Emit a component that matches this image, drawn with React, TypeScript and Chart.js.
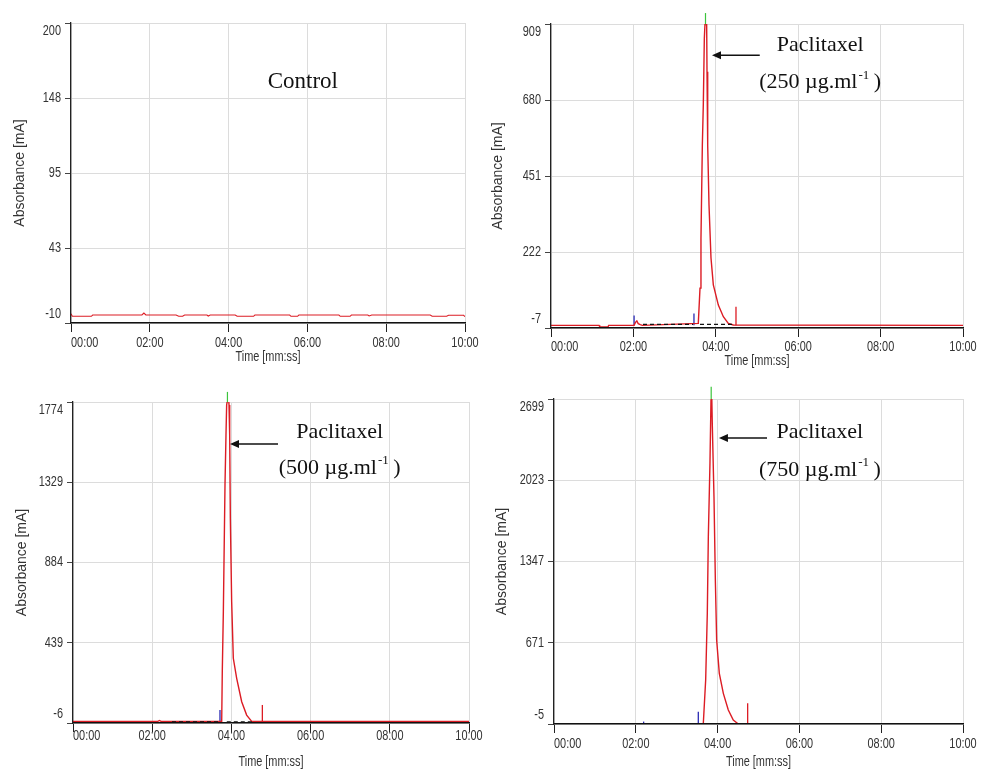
import React, { useEffect, useRef } from "react";
import { Chart, registerables } from "chart.js";

Chart.register(...registerables);

// ---------- shared axis data ----------
const X_TICKS = [0, 120, 240, 360, 480, 600]; // seconds
const X_TICK_LABELS = ["00:00", "02:00", "04:00", "06:00", "08:00", "10:00"];
const X_TITLE = "Time [mm:ss]";
const Y_TITLE = "Absorbance [mA]";

// ---------- Control ----------
const CONTROL_Y_TICKS = [-10, 42.5, 95, 147.5, 200];
const CONTROL_Y_LABELS = ["-10", "43", "95", "148", "200"];
const CONTROL_TIME = [0, 2, 31, 33, 108, 111, 114, 160, 164, 170, 173, 207, 209, 212, 250, 253, 278, 280, 333, 335, 345, 347, 408, 410, 425, 427, 452, 454, 458, 547, 550, 572, 575, 598, 600];
const CONTROL_ABS = [-3.5, -5.3, -5.3, -4.4, -4.4, -3.0, -4.4, -4.4, -5.3, -5.3, -4.4, -4.4, -5.1, -4.4, -4.4, -5.3, -5.3, -4.4, -4.4, -5.3, -5.3, -4.4, -4.4, -5.3, -5.3, -4.4, -4.4, -5.1, -4.4, -4.4, -5.3, -5.3, -4.6, -4.6, -5.6];
const CONTROL_NOTE = "Control";

// ---------- Paclitaxel 250 ----------
const P250_Y_TICKS = [-7, 222, 451, 680, 909];
const P250_Y_LABELS = ["-7", "222", "451", "680", "909"];
const P250_TIME = [0, 70, 71, 83, 84, 121, 123, 125, 127, 130, 133, 214.5, 217, 218.4, 220.4, 221.8, 223.3, 224.3, 226, 226.7, 227.2, 228.2, 230.1, 233, 236.4, 243.7, 251, 258.2, 265.5, 600];
const P250_ABS = [1, 1, -4, -4, 1, 1, 10, 14, 6, 3, 1, 7, 113, 263, 544, 665, 866, 912, 912, 905, 765, 544, 364, 204, 123, 62, 27, 7, 2, 1];
const P250_BASE = 1;
const P250_START_T = [121, 208.2];
const P250_START_TOP = [31, 37];
const P250_END_T = [269.4];
const P250_END_TOP = [57];
const P250_APEX_T = 225;
const P250_APEX = [905, 942];
const P250_DASH_LEVEL = 4;
const P250_DASH = [[134, 207], [217, 266]];
const P250_CONC = ["(250 µg.ml", "-1", " )"];

// ---------- Paclitaxel 500 ----------
const P500_Y_TICKS = [-6, 439, 884, 1329, 1774];
const P500_Y_LABELS = ["-6", "439", "884", "1329", "1774"];
const P500_TIME = [0, 128, 131, 134, 225.3, 226.2, 227.8, 230.3, 231.8, 232.8, 233.8, 236, 236.4, 237.4, 238.4, 240.4, 242.9, 248, 255.6, 263.1, 270.7, 600];
const P500_ABS = [2, 2, 8, 2, 2, 279, 611, 1314, 1591, 1758, 1780, 1780, 1758, 1591, 1129, 667, 353, 242, 112, 38, 3, 2];
const P500_BASE = 2;
const P500_START_T = [222.7];
const P500_START_TOP = [66];
const P500_END_T = [286.9];
const P500_END_TOP = [94];
const P500_APEX_T = 234;
const P500_APEX = [1770, 1830];
const P500_DASH_LEVEL = 1;
const P500_DASH = [[150, 221], [233, 271]];
const P500_CONC = ["(500 µg.ml", "-1", " )"];

// ---------- Paclitaxel 750 ----------
const P750_Y_TICKS = [-5, 671, 1347, 2023, 2699];
const P750_Y_LABELS = ["-5", "671", "1347", "2023", "2699"];
const P750_TIME = [0, 219, 222.5, 224.9, 226.4, 228.8, 230.3, 231.5, 232.3, 234.7, 236.7, 238.6, 242.5, 248.4, 255.7, 263, 270.4, 600];
const P750_ABS = [-5, -5, 361, 916, 1553, 2164, 2690, 2700, 2469, 1886, 1193, 694, 417, 250, 111, 28, -5, -5];
const P750_BASE = -5;
const P750_START_T = [131.5, 211.7];
const P750_START_TOP = [15, 97];
const P750_END_T = [284.1];
const P750_END_TOP = [167];
const P750_APEX_T = 230.6;
const P750_APEX = [2695, 2800];
const P750_DASH_LEVEL = -5;
const P750_DASH: number[][] = [];
const P750_CONC = ["(750 µg.ml", "-1", " )"];

const PEAK_NAME = "Paclitaxel";

// ---------- styles ----------
const SANS = "'Liberation Sans', Arial, sans-serif";
const SERIF = "'Liberation Serif', 'DejaVu Serif', serif";
const RED = "#dc1c24";
const BLUE = "#2a2ab4";
const GREEN = "#3cc43c";
const GRID = "#dcdcdc";
const TEXT = "#333333";
const NARROW_SCALE = 0.78;

type PanelCfg = {
  left: number; top: number; w: number; h: number;
  padTop: number; padRight: number; yW: number; xH: number;
  yTitlePad: number; xTitleOffset: number; xLabelGap: number;
  yTicks: number[]; yLabels: string[];
  time: number[]; abs: number[]; base: number; traceWidth: number;
  startT: number[]; startTop: number[]; endT: number[]; endTop: number[];
  apexT: number | null; apex: number[];
  dashLevel: number; dash: number[][];
  title: string; titleAt: number[];
  conc: string[] | null; concAt: number[];
  arrow: number[] | null; // [fromT, toT, value]
};

const PANELS: PanelCfg[] = [
  {
    left: 0, top: 0, w: 490, h: 380, padTop: 23, padRight: 25, yW: 71, xH: 57,
    yTitlePad: 12, xTitleOffset: 34, xLabelGap: 20,
    yTicks: CONTROL_Y_TICKS, yLabels: CONTROL_Y_LABELS,
    time: CONTROL_TIME, abs: CONTROL_ABS, base: -5, traceWidth: 1.1,
    startT: [], startTop: [], endT: [], endTop: [],
    apexT: null, apex: [], dashLevel: 0, dash: [],
    title: CONTROL_NOTE, titleAt: [353, 159], conc: null, concAt: [], arrow: null,
  },
  {
    left: 490, top: 0, w: 491, h: 380, padTop: 24, padRight: 18, yW: 61, xH: 52,
    yTitlePad: 0, xTitleOffset: 33, xLabelGap: 19,
    yTicks: P250_Y_TICKS, yLabels: P250_Y_LABELS,
    time: P250_TIME, abs: P250_ABS, base: P250_BASE, traceWidth: 1.4,
    startT: P250_START_T, startTop: P250_START_TOP, endT: P250_END_T, endTop: P250_END_TOP,
    apexT: P250_APEX_T, apex: P250_APEX, dashLevel: P250_DASH_LEVEL, dash: P250_DASH,
    title: PEAK_NAME, titleAt: [392, 846], conc: P250_CONC, concAt: [392, 734], arrow: [304, 234.5, 815],
  },
  {
    left: 0, top: 380, w: 490, h: 391, padTop: 22, padRight: 21, yW: 73, xH: 48,
    yTitlePad: 14, xTitleOffset: 39, xLabelGap: 13,
    yTicks: P500_Y_TICKS, yLabels: P500_Y_LABELS,
    time: P500_TIME, abs: P500_ABS, base: P500_BASE, traceWidth: 1.4,
    startT: P500_START_T, startTop: P500_START_TOP, endT: P500_END_T, endTop: P500_END_TOP,
    apexT: P500_APEX_T, apex: P500_APEX, dashLevel: P500_DASH_LEVEL, dash: P500_DASH,
    title: PEAK_NAME, titleAt: [404, 1608], conc: P500_CONC, concAt: [404, 1408], arrow: [310.6, 237.9, 1541],
  },
  {
    left: 490, top: 380, w: 491, h: 391, padTop: 19, padRight: 18, yW: 64, xH: 47,
    yTitlePad: 4, xTitleOffset: 38, xLabelGap: 20,
    yTicks: P750_Y_TICKS, yLabels: P750_Y_LABELS,
    time: P750_TIME, abs: P750_ABS, base: P750_BASE, traceWidth: 1.4,
    startT: P750_START_T, startTop: P750_START_TOP, endT: P750_END_T, endTop: P750_END_TOP,
    apexT: P750_APEX_T, apex: P750_APEX, dashLevel: P750_DASH_LEVEL, dash: P750_DASH,
    title: PEAK_NAME, titleAt: [390, 2424], conc: P750_CONC, concAt: [390, 2108], arrow: [312.5, 242, 2374],
  },
];

function narrowText(ctx: CanvasRenderingContext2D, text: string, x: number, y: number, align: CanvasTextAlign) {
  ctx.save();
  ctx.translate(x, y);
  ctx.scale(NARROW_SCALE, 1);
  ctx.textAlign = align;
  ctx.textBaseline = "middle";
  ctx.fillText(text, 0, 0);
  ctx.restore();
}

function Panel({ cfg }: { cfg: PanelCfg }) {
  const ref = useRef<HTMLCanvasElement>(null);

  useEffect(() => {
    const canvas = ref.current;
    if (!canvas) return;
    const datasets: any[] = [];

    cfg.dash.forEach(([a, b]) => {
      datasets.push({
        data: [{ x: a, y: cfg.dashLevel }, { x: b, y: cfg.dashLevel }],
        borderColor: "#111", borderWidth: 1.2, borderDash: [4, 3], pointRadius: 0,
      });
    });

    datasets.push({
      data: cfg.time.map((t, i) => ({ x: t, y: cfg.abs[i] })),
      borderColor: RED, borderWidth: cfg.traceWidth, pointRadius: 0,
    });

    cfg.startT.forEach((t, i) => {
      datasets.push({
        data: [{ x: t, y: cfg.base }, { x: t, y: cfg.startTop[i] }],
        borderColor: BLUE, borderWidth: 1.3, pointRadius: 0,
      });
    });
    cfg.endT.forEach((t, i) => {
      datasets.push({
        data: [{ x: t, y: cfg.base }, { x: t, y: cfg.endTop[i] }],
        borderColor: RED, borderWidth: 1.3, pointRadius: 0,
      });
    });
    if (cfg.apexT !== null) {
      datasets.push({
        data: [{ x: cfg.apexT, y: cfg.apex[0] }, { x: cfg.apexT, y: cfg.apex[1] }],
        borderColor: GREEN, borderWidth: 1.2, pointRadius: 0, clip: false,
      });
    }

    const textPlugin = {
      id: "panelText",
      afterDraw(chart: any) {
        const { ctx, chartArea } = chart;
        const { left, right, top, bottom } = chartArea;
        const xs = chart.scales.x;
        const ys = chart.scales.y;
        ctx.save();
        ctx.fillStyle = TEXT;
        ctx.font = `14px ${SANS}`;
        cfg.yTicks.forEach((v, i) => {
          let py = ys.getPixelForValue(v);
          py = Math.min(Math.max(py, top + 8), bottom - 9);
          narrowText(ctx, cfg.yLabels[i], left - 10, py, "right");
        });
        X_TICKS.forEach((v, i) => {
          const px = xs.getPixelForValue(v);
          narrowText(ctx, X_TICK_LABELS[i], px, bottom + cfg.xLabelGap, i === 0 ? "left" : "center");
        });
        narrowText(ctx, X_TITLE, (left + right) / 2, bottom + cfg.xTitleOffset, "center");

        // annotations
        ctx.fillStyle = "#111";
        ctx.strokeStyle = "#111";
        ctx.textAlign = "center";
        ctx.textBaseline = "middle";
        ctx.font = `${cfg.conc ? 22 : 23}px ${SERIF}`;
        ctx.fillText(cfg.title, xs.getPixelForValue(cfg.titleAt[0]), ys.getPixelForValue(cfg.titleAt[1]));

        if (cfg.conc) {
          const mainFont = `22px ${SERIF}`;
          const supFont = `13px ${SERIF}`;
          ctx.font = mainFont;
          const w1 = ctx.measureText(cfg.conc[0]).width;
          const w3 = ctx.measureText(cfg.conc[2]).width;
          ctx.font = supFont;
          const w2 = ctx.measureText(cfg.conc[1]).width;
          const cx = xs.getPixelForValue(cfg.concAt[0]);
          const cy = ys.getPixelForValue(cfg.concAt[1]);
          let sx = cx - (w1 + w2 + w3) / 2;
          ctx.textAlign = "left";
          ctx.font = mainFont;
          ctx.fillText(cfg.conc[0], sx, cy);
          sx += w1;
          ctx.font = supFont;
          ctx.fillText(cfg.conc[1], sx + 1, cy - 7);
          sx += w2;
          ctx.font = mainFont;
          ctx.fillText(cfg.conc[2], sx, cy);
        }

        if (cfg.arrow) {
          const x1 = xs.getPixelForValue(cfg.arrow[0]);
          const x2 = xs.getPixelForValue(cfg.arrow[1]);
          const ay = ys.getPixelForValue(cfg.arrow[2]);
          ctx.lineWidth = 1.5;
          ctx.beginPath();
          ctx.moveTo(x1, ay);
          ctx.lineTo(x2 + 6, ay);
          ctx.stroke();
          ctx.beginPath();
          ctx.moveTo(x2, ay);
          ctx.lineTo(x2 + 9, ay - 4);
          ctx.lineTo(x2 + 9, ay + 4);
          ctx.closePath();
          ctx.fill();
        }
        ctx.restore();
      },
    };

    const chart = new Chart(canvas, {
      type: "line",
      data: { datasets },
      options: {
        responsive: false,
        animation: false,
        layout: { padding: { top: cfg.padTop, right: cfg.padRight, left: 0, bottom: 0 } },
        plugins: { legend: { display: false }, tooltip: { enabled: false } },
        elements: { line: { tension: 0 }, point: { radius: 0 } },
        scales: {
          x: {
            type: "linear",
            min: 0,
            max: 600,
            afterBuildTicks: (s: any) => { s.ticks = X_TICKS.map((v) => ({ value: v })); },
            afterFit: (s: any) => { s.height = cfg.xH; },
            ticks: { display: false },
            grid: { color: GRID, tickColor: "#222", tickLength: 9, lineWidth: 1 },
            border: { color: "#111", width: 1.6, z: 1 },
            title: { display: false },
          },
          y: {
            type: "linear",
            min: cfg.yTicks[0],
            max: cfg.yTicks[cfg.yTicks.length - 1],
            afterBuildTicks: (s: any) => { s.ticks = cfg.yTicks.map((v) => ({ value: v })); },
            afterFit: (s: any) => { s.width = cfg.yW; },
            ticks: { display: false },
            grid: { color: GRID, tickColor: "#444", tickLength: 6, lineWidth: 1 },
            border: { color: "#222", width: 1.3, z: 1 },
            title: {
              display: true, text: Y_TITLE, color: TEXT,
              font: { family: SANS, size: 14 },
              padding: { top: cfg.yTitlePad, bottom: 0 },
            },
          },
        },
      } as any,
      plugins: [textPlugin],
    });
    return () => chart.destroy();
  }, [cfg]);

  return (
    <canvas
      ref={ref}
      width={cfg.w}
      height={cfg.h}
      style={{ position: "absolute", left: cfg.left, top: cfg.top, width: cfg.w, height: cfg.h }}
    />
  );
}

export default function App() {
  return (
    <div style={{ position: "absolute", left: 0, top: 0, width: 981, height: 771, background: "#fff" }}>
      {PANELS.map((p, i) => (
        <Panel key={i} cfg={p} />
      ))}
    </div>
  );
}
